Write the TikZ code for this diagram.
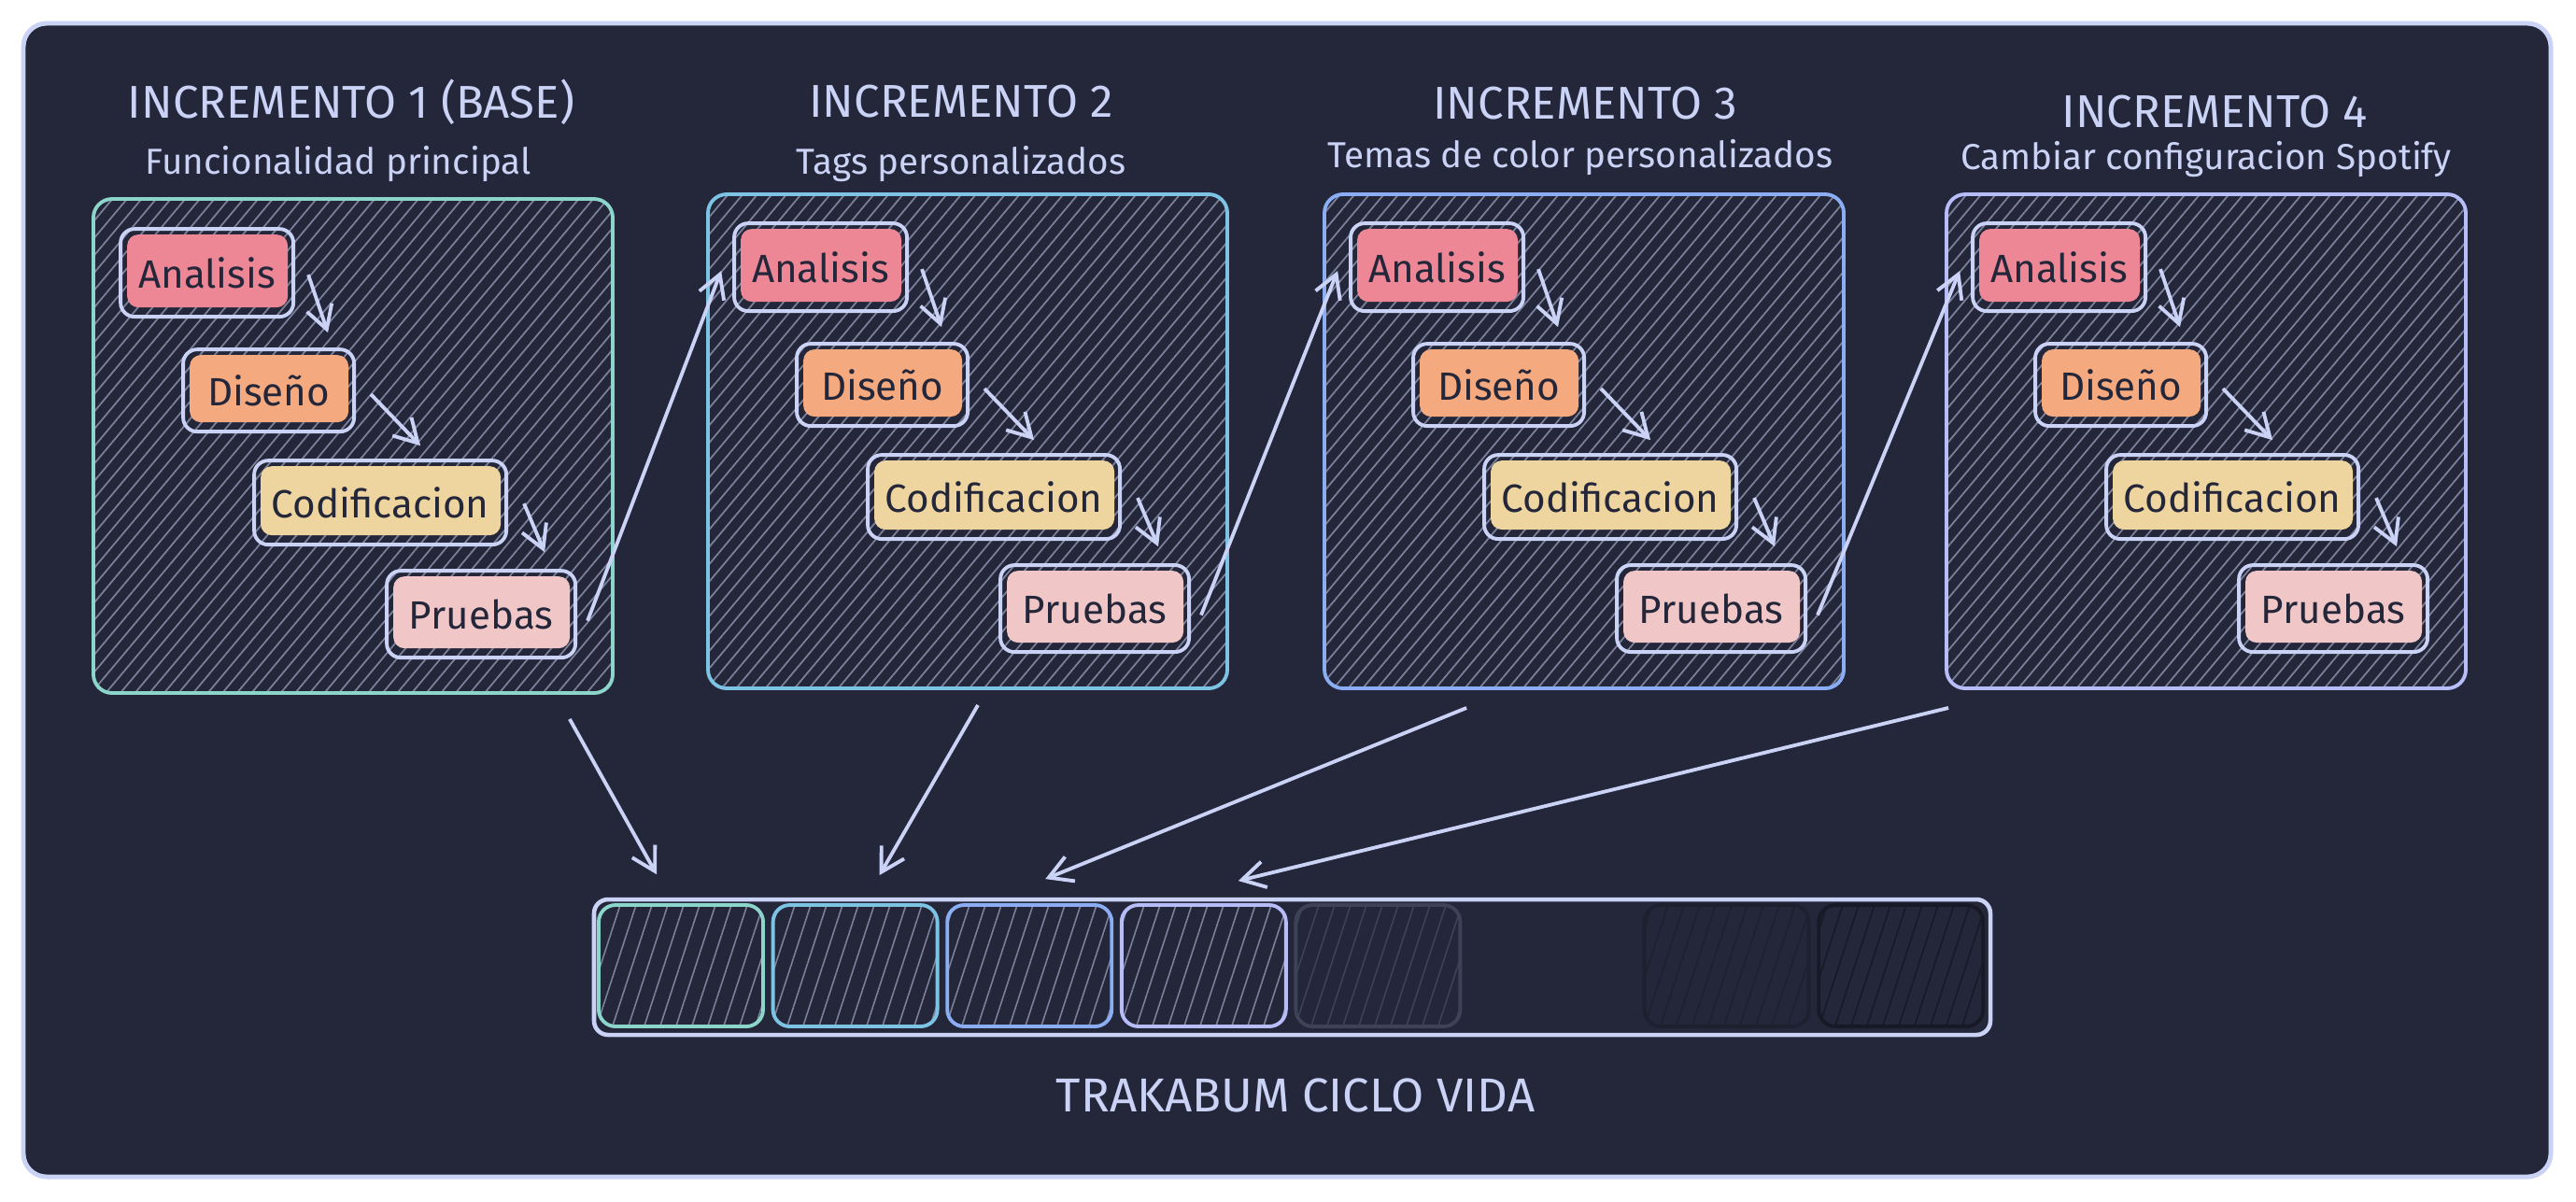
\documentclass[tikz,border=0pt]{standalone}
\usepackage{fontspec}
\setmainfont{Fira Sans}
\usetikzlibrary{arrows.meta,patterns.meta}

\definecolor{base}{HTML}{24273A}
\definecolor{fg}{HTML}{CAD3F5}
\definecolor{hatch}{HTML}{7C819B}
\definecolor{ared}{HTML}{ED8796}
\definecolor{apeach}{HTML}{F5A97F}
\definecolor{ayellow}{HTML}{EED49F}
\definecolor{apink}{HTML}{F0C6C6}
\definecolor{cteal}{HTML}{8BD5CA}
\definecolor{csapph}{HTML}{7DC4E4}
\definecolor{cblue}{HTML}{8AADF4}
\definecolor{clav}{HTML}{B7BDF8}
\definecolor{cgray}{HTML}{3E4257}
\definecolor{cmantle}{HTML}{1E2030}
\definecolor{ccrust}{HTML}{181926}

\tikzset{
  frame/.style={draw=fg, fill=base, line width=1.4pt, rounded corners=0.25cm},
  increment/.style={draw=#1, line width=1.1pt, rounded corners=0.2cm,
    minimum width=5.56cm, minimum height=5.29cm,
    pattern={Lines[angle=50,distance=3.4pt,line width=0.5pt]}, pattern color=hatch},
  stage/.style={draw=fg, line width=1.1pt, rounded corners=0.15cm, text=base,
    font=\fontsize{12}{14}\selectfont, inner sep=0pt,
    path picture={\fill[#1, rounded corners=0.12cm]
      ([shift={(0.07,-0.06)}]path picture bounding box.north west) rectangle
      ([shift={(-0.06,0.1)}]path picture bounding box.south east);}},
  title/.style={text=fg, font=\fontsize{14}{16}\selectfont},
  subtitle/.style={text=fg, font=\fontsize{11}{13}\selectfont},
  flow/.style={draw=fg, line width=1.1pt, -{Straight Barb[length=7pt,width=8pt]}},
  cell/.style 2 args={draw=#1, pattern color=#2, line width=1.1pt, rounded corners=0.18cm,
    minimum width=1.76cm, minimum height=1.30cm,
    pattern={Lines[angle=72,distance=4.6pt,line width=0.45pt]}},
}

\begin{document}
\begin{tikzpicture}
  \useasboundingbox (0,0) rectangle (27.58,-12.86);
  \draw[frame] (0.25,-0.25) rectangle (27.31,-12.60);

  % titles
  \node[title] (title1) at (3.76,-1.09) {INCREMENTO 1 (BASE)};
  \node[subtitle] (sub1) at (3.62,-1.76) {Funcionalidad principal};
  \node[title] (title2) at (10.29,-1.09) {INCREMENTO 2};
  \node[subtitle] (sub2) at (10.29,-1.76) {Tags personalizados};
  \node[title] (title3) at (16.97,-1.11) {INCREMENTO 3};
  \node[subtitle] (sub3) at (16.92,-1.69) {Temas de color personalizados};
  \node[title] (title4) at (23.71,-1.20) {INCREMENTO 4};
  \node[subtitle] (sub4) at (23.62,-1.71) {Cambiar configuracion Spotify};

  % increments
  \node[increment=cteal] (inc1) at (3.78,-4.775) {};
  \node[increment=csapph] (inc2) at (10.36,-4.725) {};
  \node[increment=cblue] (inc3) at (16.96,-4.725) {};
  \node[increment=clav] (inc4) at (23.62,-4.725) {};

  % stages of increment 1
  \node[stage=ared, minimum width=1.85cm, minimum height=0.94cm] (ana1) at ([shift={(1.225,-0.80)}]inc1.north west) {Analisis};
  \node[stage=apeach, minimum width=1.83cm, minimum height=0.88cm] (dis1) at ([shift={(1.885,-2.06)}]inc1.north west) {Diseño};
  \node[stage=ayellow, minimum width=2.70cm, minimum height=0.90cm] (cod1) at ([shift={(3.08,-3.26)}]inc1.north west) {Codificacion};
  \node[stage=apink, minimum width=2.02cm, minimum height=0.93cm] (pru1) at ([shift={(4.16,-4.455)}]inc1.north west) {Pruebas};

  % stages of increment 2
  \node[stage=ared, minimum width=1.85cm, minimum height=0.94cm] (ana2) at ([shift={(1.225,-0.80)}]inc2.north west) {Analisis};
  \node[stage=apeach, minimum width=1.83cm, minimum height=0.88cm] (dis2) at ([shift={(1.885,-2.06)}]inc2.north west) {Diseño};
  \node[stage=ayellow, minimum width=2.70cm, minimum height=0.90cm] (cod2) at ([shift={(3.08,-3.26)}]inc2.north west) {Codificacion};
  \node[stage=apink, minimum width=2.02cm, minimum height=0.93cm] (pru2) at ([shift={(4.16,-4.455)}]inc2.north west) {Pruebas};

  % stages of increment 3
  \node[stage=ared, minimum width=1.85cm, minimum height=0.94cm] (ana3) at ([shift={(1.225,-0.80)}]inc3.north west) {Analisis};
  \node[stage=apeach, minimum width=1.83cm, minimum height=0.88cm] (dis3) at ([shift={(1.885,-2.06)}]inc3.north west) {Diseño};
  \node[stage=ayellow, minimum width=2.70cm, minimum height=0.90cm] (cod3) at ([shift={(3.08,-3.26)}]inc3.north west) {Codificacion};
  \node[stage=apink, minimum width=2.02cm, minimum height=0.93cm] (pru3) at ([shift={(4.16,-4.455)}]inc3.north west) {Pruebas};

  % stages of increment 4
  \node[stage=ared, minimum width=1.85cm, minimum height=0.94cm] (ana4) at ([shift={(1.225,-0.80)}]inc4.north west) {Analisis};
  \node[stage=apeach, minimum width=1.83cm, minimum height=0.88cm] (dis4) at ([shift={(1.885,-2.06)}]inc4.north west) {Diseño};
  \node[stage=ayellow, minimum width=2.70cm, minimum height=0.90cm] (cod4) at ([shift={(3.08,-3.26)}]inc4.north west) {Codificacion};
  \node[stage=apink, minimum width=2.02cm, minimum height=0.93cm] (pru4) at ([shift={(4.16,-4.455)}]inc4.north west) {Pruebas};

  % life cycle bar
  \node[draw=fg, line width=1.3pt, rounded corners=0.15cm, minimum width=14.95cm, minimum height=1.45cm] (bar) at (13.835,-10.355) {};
  \node[cell={cteal}{hatch}] (cell1) at (7.29,-10.34) {};
  \node[cell={csapph}{hatch}] (cell2) at (9.156,-10.34) {};
  \node[cell={cblue}{hatch}] (cell3) at (11.022,-10.34) {};
  \node[cell={clav}{hatch}] (cell4) at (12.888,-10.34) {};
  \node[cell={cgray}{cgray}] (cell5) at (14.754,-10.34) {};
  \node[draw=base, fill=base, line width=1pt, rounded corners=0.15cm, minimum width=1.76cm, minimum height=1.30cm] (cell6) at (16.62,-10.34) {};
  \node[cell={cmantle}{cmantle}] (cell7) at (18.486,-10.34) {};
  \node[cell={ccrust}{ccrust}] (cell8) at (20.352,-10.34) {};
  \node[text=fg, font=\fontsize{14.5}{16}\selectfont] (cycle) at (13.87,-11.73) {TRAKABUM CICLO VIDA};

  \begin{scope}[flow]
    % inside each increment
    \draw ([shift={(0.14,-0.02)}]ana1.east) -- ([shift={(-0.30,0.16)}]dis1.north east);
    \draw ([shift={(0.16,-0.04)}]dis1.east) -- ([shift={(0.43,0.14)}]cod1.north);
    \draw ([shift={(0.17,-0.01)}]cod1.east) -- ([shift={(-0.35,0.18)}]pru1.north east);
    \draw ([shift={(0.14,-0.02)}]ana2.east) -- ([shift={(-0.30,0.16)}]dis2.north east);
    \draw ([shift={(0.16,-0.04)}]dis2.east) -- ([shift={(0.43,0.14)}]cod2.north);
    \draw ([shift={(0.17,-0.01)}]cod2.east) -- ([shift={(-0.35,0.18)}]pru2.north east);
    \draw ([shift={(0.14,-0.02)}]ana3.east) -- ([shift={(-0.30,0.16)}]dis3.north east);
    \draw ([shift={(0.16,-0.04)}]dis3.east) -- ([shift={(0.43,0.14)}]cod3.north);
    \draw ([shift={(0.17,-0.01)}]cod3.east) -- ([shift={(-0.35,0.18)}]pru3.north east);
    \draw ([shift={(0.14,-0.02)}]ana4.east) -- ([shift={(-0.30,0.16)}]dis4.north east);
    \draw ([shift={(0.16,-0.04)}]dis4.east) -- ([shift={(0.43,0.14)}]cod4.north);
    \draw ([shift={(0.17,-0.01)}]cod4.east) -- ([shift={(-0.35,0.18)}]pru4.north east);
    % from one increment to the next
    \draw ([shift={(0.11,-0.07)}]pru1.east) -- ([shift={(-0.12,-0.04)}]ana2.west);
    \draw ([shift={(0.11,-0.07)}]pru2.east) -- ([shift={(-0.12,-0.04)}]ana3.west);
    \draw ([shift={(0.11,-0.07)}]pru3.east) -- ([shift={(-0.12,-0.04)}]ana4.west);
    % into the life cycle
    \draw ([shift={(-0.47,-0.27)}]inc1.south east) -- ([shift={(-0.26,0.32)}]cell1.north);
    \draw ([shift={(0.11,-0.16)}]inc2.south) -- ([shift={(0.26,0.30)}]cell2.north);
    \draw ([shift={(1.54,-0.19)}]inc3.south west) -- ([shift={(0.17,0.26)}]cell3.north);
    \draw ([shift={(0.04,-0.19)}]inc4.south west) -- ([shift={(0.37,0.24)}]cell4.north);
  \end{scope}
\end{tikzpicture}
\end{document}
